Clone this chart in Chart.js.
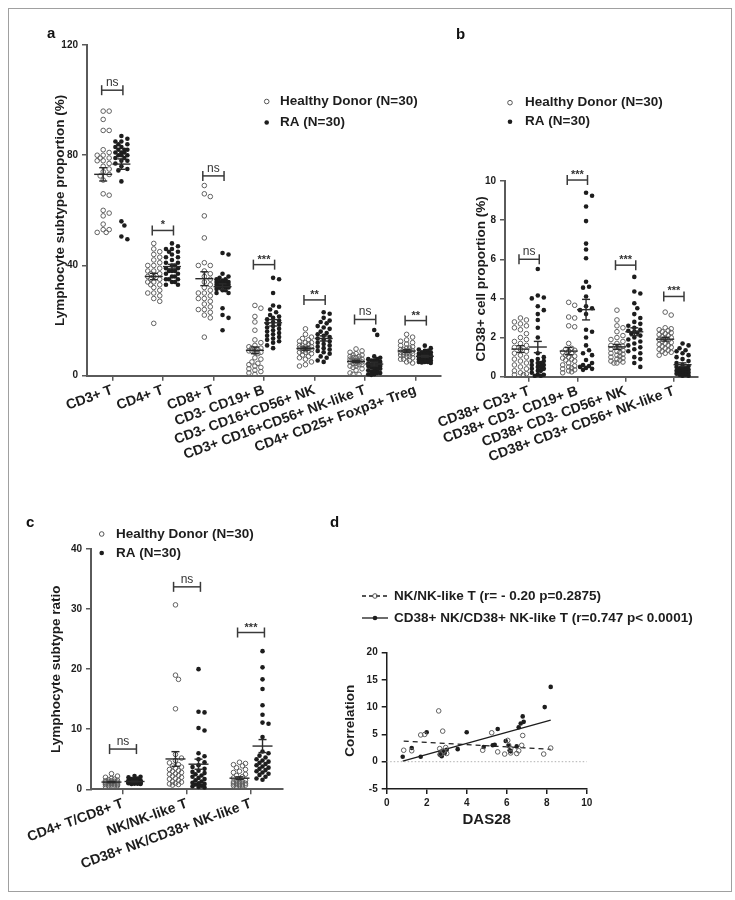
<!DOCTYPE html>
<html>
<head>
<meta charset="utf-8">
<script src="https://cdn.jsdelivr.net/npm/chart.js@4.4.1/dist/chart.umd.min.js"></script>
<style>
  body{margin:0;background:#fff}
  #fig{position:relative;width:735px;height:900px;overflow:hidden;background:#fff}
  #fig canvas{position:absolute}
  .frame{position:absolute;left:8px;top:8px;width:724px;height:884px;border:1px solid #a0a0a0;box-sizing:border-box}
  .tag{position:absolute;font:bold 15px "Liberation Sans",Arial,sans-serif;color:#111;line-height:16px}
</style>
</head>
<body>
<div id="fig">
  <div class="frame"></div>
  <canvas id="cA" width="450" height="480" style="left:0;top:0"></canvas>
  <canvas id="cB" width="300" height="480" style="left:420px;top:0"></canvas>
  <canvas id="cC" width="300" height="380" style="left:0;top:500px"></canvas>
  <canvas id="cD" width="430" height="345" style="left:300px;top:500px"></canvas>
  <div class="tag" style="left:47px;top:25px">a</div>
  <div class="tag" style="left:456px;top:26px">b</div>
  <div class="tag" style="left:26px;top:514px">c</div>
  <div class="tag" style="left:330px;top:514px">d</div>
</div>
<script>
// ====== DATA ======
const legendHD = 'Healthy Donor (N=30)';
const legendRA = 'RA (N=30)';

// panel a
const catsA = ['CD3+ T','CD4+ T','CD8+ T','CD3- CD19+ B','CD3- CD16+CD56+ NK','CD3+ CD16+CD56+ NK-like T','CD4+ CD25+ Foxp3+ Treg'];
const hdA = [
  [96,96,93,89,89,82,81,80,80,79,79,78,78,77,76,74,72.5,71,75,73,65.5,66,60,59,58,55,53,52,53,52],
  [48,46,45,44,43,42,41,40,40,39,38,38,37,37,36,36,35,35,34,34,33,33,32,31,30,30,29,28,27,19],
  [69,66,65,58,50,41,40,40,38,37,36,35,34,33,32,31,30,30,29,28,28,27,26,25,24,24,23,22,21,14],
  [25.5,24.5,21.5,19.5,16.5,13,12,11,10.5,10,10,9.5,9.5,9,9,8.5,8.5,8,6.5,6,5,4.5,4,3.5,3,2.5,2,1.5,1,0.5],
  [17,15,14,13.5,13,12.5,12,12,11.5,11,11,10.5,10.5,10,10,10,9.5,9.5,9,9,8.5,8.5,8,7.5,7,6.5,6,5,4,3.5],
  [9.7,9,8.5,8,7.5,7.5,7,7,6.5,6.5,6,6,6,5.5,5.5,5,5,5,4.5,4.5,4,4,3.5,3.5,3,2.5,2,1,0.5,0.5],
  [15,14,13,12.5,12,11.5,11,10.5,10,10,9.5,9.5,9,9,9,8.5,8.5,8,8,8,7.5,7.5,7,7,6.5,6,6,5.5,5,4.6]
];
const raA = [
  [87,86,85,85,84,84,83,83,82,82,82,81,81,81,80,80,80,79,79,78,78,77,76,75,74.5,70.5,56,54.5,50.5,49.5],
  [48,47,46,46,45,45,44,43,43,42,41,41,40,40,39,39,38,38,38,37,37,36,36,35,35,35,34,34,33,33],
  [44.5,44,37,36,35.5,35,35,34.5,34,34,34,33.5,33,33,33,32.5,32,32,31.5,31,31,30,30,34,33,32,24.5,22,21,16.5],
  [35.5,35,30,25.5,25,24,23,22,21.5,21,20.5,20,19.5,19,18.5,18,17.5,17,16.5,16,15.5,15,14.5,14,13.5,13,12.5,12,11,10],
  [23,22.5,21,20,19.5,19,18,17.5,17,16,15.5,15,14.5,14,13.5,13,12.5,12,11.5,11,10.5,10,9.5,9,8.5,8,7,6.5,5.5,5],
  [16.6,14.8,7,6.5,6,6,5.5,5.5,5,5,4.5,4.5,4,4,3.5,3.5,3.5,3,3,2.5,2.5,2,2,1.5,1.5,1,1,0.5,0.5,0.3],
  [10.9,10,9.5,9,9,8.5,8.5,8,8,8,7.5,7.5,7.5,7,7,7,6.5,6.5,6.5,6,6,6,5.5,5.5,5.5,5,5,5,4.8,4.6]
];
const sigA = ['ns','*','ns','***','**','ns','**'];
const sigYA = [103.6,52.7,72.5,40.3,27.5,20.4,20];

// panel b
const catsB = ['CD38+ CD3+ T','CD38+ CD3- CD19+ B','CD38+ CD3- CD56+ NK','CD38+ CD3+ CD56+ NK-like T'];
const hdB = [
  [3,2.9,2.8,2.7,2.6,2.5,2.4,2.2,2,1.9,1.8,1.7,1.6,1.5,1.4,1.3,1.2,1.1,1,0.9,0.8,0.7,0.6,0.5,0.4,0.3,0.2,0.15,0.1,0.1],
  [3.8,3.65,3.05,3,2.6,2.55,1.7,1.45,1.4,1.35,1.3,1.25,1.2,1.1,1.05,1,0.95,0.9,0.85,0.8,0.7,0.6,0.55,0.5,0.45,0.4,0.35,0.3,0.25,0.2],
  [3.4,2.9,2.6,2.5,2.3,2.1,2,1.9,1.8,1.7,1.6,1.55,1.5,1.45,1.4,1.35,1.3,1.25,1.2,1.15,1.1,1.05,1,0.95,0.9,0.85,0.8,0.75,0.7,0.7],
  [3.3,3.15,2.5,2.45,2.4,2.35,2.3,2.25,2.2,2.15,2.1,2.05,2,1.95,1.9,1.85,1.8,1.75,1.7,1.65,1.6,1.55,1.5,1.45,1.4,1.35,1.3,1.25,1.2,1.1]
];
const raB = [
  [5.5,4.15,4.05,4,3.6,3.4,3.2,2.9,2.5,2,1.2,1,0.9,0.8,0.8,0.7,0.7,0.6,0.6,0.5,0.5,0.4,0.4,0.3,0.3,0.2,0.1,0.1,0.05,0.05],
  [9.4,9.25,8.7,7.95,6.8,6.5,6.05,4.85,4.6,4.55,4.1,3.6,3.5,3.4,3.2,2.4,2.3,2,1.6,1.35,1.2,1.1,0.85,0.7,0.6,0.55,0.5,0.45,0.4,0.35],
  [5.1,4.35,4.25,3.75,3.5,3.2,3,2.8,2.7,2.6,2.5,2.4,2.35,2.3,2.25,2.2,2.1,2,1.9,1.8,1.7,1.6,1.5,1.4,1.3,1.2,1,0.9,0.7,0.5],
  [1.7,1.6,1.45,1.35,1.3,1.2,1.1,1,0.9,0.8,0.7,0.6,0.55,0.5,0.45,0.4,0.4,0.35,0.3,0.3,0.25,0.25,0.2,0.2,0.15,0.15,0.1,0.1,0.05,0.05]
];
const sigB = ['ns','***','***','***'];
const sigYB = [6,10.05,5.7,4.1];

// panel c
const catsC = ['CD4+ T/CD8+ T','NK/NK-like T','CD38+ NK/CD38+ NK-like T'];
const hdC = [
  [2.6,2.2,2,1.8,1.7,1.6,1.5,1.4,1.4,1.3,1.3,1.2,1.2,1.2,1.1,1.1,1.1,1,1,1,0.9,0.9,0.9,0.8,0.8,0.7,0.7,0.6,0.6,0.5],
  [30.7,19,18.3,13.4,5.8,5.2,4.8,4.4,4.1,3.9,3.7,3.5,3.3,3.1,3,2.8,2.6,2.5,2.3,2.2,2,1.8,1.7,1.5,1.3,1.2,1,0.9,0.8,0.7],
  [4.5,4.3,4.1,3.9,3.6,3.3,3,2.8,2.5,2.3,2.1,1.9,1.7,1.5,1.4,1.3,1.2,1.1,1,1,0.9,0.9,0.8,0.8,0.7,0.7,0.6,0.6,0.5,0.5]
];
const raC = [
  [2.2,2.1,2,1.8,1.7,1.6,1.5,1.5,1.4,1.4,1.3,1.3,1.3,1.2,1.2,1.2,1.2,1.1,1.1,1.1,1.1,1,1,1,1,1,0.95,0.95,0.9,0.9],
  [20,12.9,12.8,10.2,9.8,6,5.5,5,4.5,4,3.7,3.4,3.1,2.9,2.7,2.5,2.3,2.1,1.9,1.7,1.5,1.3,1.1,1,0.9,0.8,0.6,0.5,0.4,0.3],
  [23,20.3,18.3,16.7,14,12.4,11.1,10.9,8.7,6.3,6,5.6,5.3,5,4.8,4.6,4.4,4.2,4,3.8,3.6,3.4,3.2,3,2.8,2.6,2.4,2.1,1.8,1.6]
];
const sigC = ['ns','ns','***'];
const sigYC = [6.7,33.7,26.1];

// panel d
const legendNK = 'NK/NK-like T (r= - 0.20 p=0.2875)';
const legendCD38 = 'CD38+ NK/CD38+ NK-like T (r=0.747 p< 0.0001)';
const dasNK  = [0.85,1.25,1.7,1.9,2.6,2.65,2.7,2.8,2.85,2.95,3.0,4.8,5.25,5.55,5.9,6.05,6.1,6.2,6.2,6.5,6.6,6.75,6.8,7.85,8.2];
const corrNK = [2.1,2.0,4.9,5.0,9.3,2.4,1.4,5.6,1.9,2.6,1.5,2.1,5.3,1.8,1.4,3.9,3.0,1.6,2.4,1.5,2.0,3.0,4.8,1.4,2.5];
const dasCD38  = [0.8,1.25,1.7,2.0,2.65,2.7,2.75,2.8,2.9,3.0,3.55,4.0,4.85,5.3,5.4,5.55,5.95,6.1,6.15,6.2,6.5,6.6,6.7,6.8,6.85,7.9,8.2];
const corrCD38 = [0.9,2.5,0.9,5.4,1.3,1.8,1.0,2.0,1.6,2.2,2.3,5.4,2.7,3.0,3.1,6.0,3.8,2.9,2.1,1.9,2.8,6.3,7.0,8.3,7.3,10.0,13.7];

// ====== STYLE ======
const FONT = '"Liberation Sans", Arial, sans-serif';
const INK = '#1d1d1d', AXIS = '#5a5a5a';

// ====== HELPERS ======
const mean = v => v.reduce((s,a)=>s+a,0)/v.length;
const sem = v => { const m=mean(v); return Math.sqrt(v.reduce((s,a)=>s+(a-m)**2,0)/(v.length-1))/Math.sqrt(v.length); };
function fit(xs, ys){
  const mx=mean(xs), my=mean(ys); let sxy=0,sxx=0;
  xs.forEach((x,i)=>{ sxy+=(x-mx)*(ys[i]-my); sxx+=(x-mx)**2; });
  const b=sxy/sxx, a=my-b*mx, lo=Math.min(...xs), hi=Math.max(...xs);
  return [{x:lo,y:a+b*lo},{x:hi,y:a+b*hi}];
}
// simple beeswarm: horizontal offset (in category units) so dots don't pile up
function swarm(vals, pxU, pxC, dot, maxPx){
  const order = vals.map((v,i)=>i).sort((a,b)=>vals[b]-vals[a]);
  const placed=[], off=new Array(vals.length).fill(0), step=dot*0.6;
  const n = 2*Math.floor(maxPx/step);
  for(const i of order){
    const y = vals[i]*pxU; let best=0, bestD=-1;
    for(let k=0;k<=n;k++){
      const o = k===0 ? 0 : (k%2?1:-1)*Math.ceil(k/2)*step;
      let d=Infinity; for(const p of placed){ d=Math.min(d, Math.hypot(p.x-o,p.y-y)); }
      if(d>=dot){ best=o; break; }
      if(d>bestD){ bestD=d; best=o; }
    }
    placed.push({x:best,y}); off[i]=best/pxC;
  }
  return off;
}
function seg(ctx,x1,y1,x2,y2){ ctx.beginPath(); ctx.moveTo(x1,y1); ctx.lineTo(x2,y2); ctx.stroke(); }
function dot(ctx,x,y,r,filled){
  ctx.beginPath(); ctx.arc(x,y,r,0,Math.PI*2);
  if(filled){ ctx.fillStyle=INK; ctx.fill(); } else { ctx.strokeStyle='#555'; ctx.lineWidth=1; ctx.stroke(); }
}

// ====== PLUGIN: mean/SEM, brackets, legend ======
const deco = {
  id:'deco',
  beforeDatasetsDraw(chart, args, o){
    if(!o.zero) return;
    const {ctx, chartArea:a, scales:{y}} = chart, py=y.getPixelForValue(0);
    ctx.save(); ctx.strokeStyle='#b0b0b0'; ctx.lineWidth=1; ctx.setLineDash([1.5,2]);
    seg(ctx,a.left,py,a.right,py); ctx.restore();
  },
  afterDatasetsDraw(chart, args, o){
    const {ctx, scales:{x,y}} = chart;
    ctx.save(); ctx.strokeStyle='#2a2a2a'; ctx.lineWidth=1.4;
    (o.groups||[]).forEach(g=>{
      const cx=x.getPixelForValue(g.x), m=mean(g.v), s=sem(g.v);
      const ym=y.getPixelForValue(m), yt=y.getPixelForValue(m+s), yb=y.getPixelForValue(m-s);
      seg(ctx,cx-o.mw,ym,cx+o.mw,ym); seg(ctx,cx,yt,cx,yb);
      seg(ctx,cx-o.cw,yt,cx+o.cw,yt); seg(ctx,cx-o.cw,yb,cx+o.cw,yb);
    });
    (o.sig||[]).forEach(s=>{
      const x1=x.getPixelForValue(s.x-s.w), x2=x.getPixelForValue(s.x+s.w), py=y.getPixelForValue(s.y);
      ctx.strokeStyle='#3a3a3a'; ctx.lineWidth=1.5;
      seg(ctx,x1,py,x2,py); seg(ctx,x1,py-5,x1,py+5); seg(ctx,x2,py-5,x2,py+5);
      ctx.fillStyle='#333'; ctx.textAlign='center'; ctx.textBaseline='alphabetic';
      ctx.font = s.t==='ns' ? `12px ${FONT}` : `bold 11px ${FONT}`;
      ctx.fillText(s.t,(x1+x2)/2, py - (s.t==='ns'?4:2));
    });
    ctx.restore();
  },
  afterDraw(chart, args, o){
    if(!o.legend) return;
    const {ctx} = chart, L=o.legend;
    ctx.save(); ctx.font=`bold 13.5px ${FONT}`; ctx.fillStyle=INK; ctx.textBaseline='middle'; ctx.textAlign='left';
    L.items.forEach((it,i)=>{
      const yy=L.y+i*L.dy;
      if(it.line){
        ctx.strokeStyle=INK; ctx.lineWidth=1.3; ctx.setLineDash(it.line==='dash'?[4,3]:[]);
        seg(ctx,L.x0,yy,L.x1,yy); ctx.setLineDash([]);
        dot(ctx,(L.x0+L.x1)/2,yy,2.3,it.filled);
      } else dot(ctx,L.mx,yy,2.3,it.filled);
      ctx.fillStyle=INK; ctx.fillText(it.text,L.tx,yy);
    });
    ctx.restore();
  }
};

// ====== CHART BUILDERS ======
function axisY(p){
  return {
    min:p.yMin, max:p.yMax,
    afterFit:s=>{ s.width=p.yW; },
    border:{color:AXIS,width:2},
    grid:{drawOnChartArea:false,tickLength:5,color:AXIS,lineWidth:1.5},
    ticks:{stepSize:p.step,padding:4,color:INK,font:{family:FONT,size:10,weight:'bold'}},
    title:{display:true,text:p.yTitle,color:INK,font:{family:FONT,size:13.5,weight:'bold'},padding:{top:p.tPad,bottom:0}}
  };
}
function groupChart(id, p){
  const hdPts=[], raPts=[], groups=[], sig=[];
  p.cats.forEach((c,i)=>{
    const oh=swarm(p.hd[i],p.pxU,p.pxC,p.dot,p.spread), or=swarm(p.ra[i],p.pxU,p.pxC,p.dot,p.spread);
    p.hd[i].forEach((v,j)=>hdPts.push({x:i-p.side+oh[j],y:v}));
    p.ra[i].forEach((v,j)=>raPts.push({x:i+p.side+or[j],y:v}));
    groups.push({x:i-p.side,v:p.hd[i]},{x:i+p.side,v:p.ra[i]});
    sig.push({x:i,w:p.side+0.03,y:p.sigY[i],t:p.sig[i]});
  });
  new Chart(document.getElementById(id),{
    type:'scatter',
    data:{datasets:[
      {label:legendHD,data:hdPts,clip:false,pointRadius:p.r,pointBorderWidth:1,pointBorderColor:'#606060',pointBackgroundColor:'rgba(255,255,255,0)'},
      {label:legendRA,data:raPts,clip:false,pointRadius:p.r,pointBorderWidth:0,pointBackgroundColor:INK}
    ]},
    options:{
      responsive:false, animation:false, events:[],
      layout:{padding:p.pad},
      plugins:{legend:{display:false},tooltip:{enabled:false},
        deco:{groups,sig,mw:p.mw,cw:4,legend:{items:[{text:legendHD,filled:false},{text:legendRA,filled:true}],...p.leg}}},
      scales:{
        x:{type:'linear',min:-0.5,max:p.cats.length-0.5,
          afterBuildTicks:s=>{ s.ticks=p.cats.map((c,i)=>({value:i})); },
          afterFit:s=>{ s.height=p.xH; },
          border:{color:AXIS,width:2},
          grid:{drawOnChartArea:false,tickLength:5,color:AXIS,lineWidth:1.5},
          ticks:{autoSkip:false,minRotation:20,maxRotation:20,padding:1,color:INK,font:{family:FONT,size:14,weight:'bold'},callback:v=>p.cats[v]}},
        y:axisY(p)
      }
    },
    plugins:[deco]
  });
}

// ====== PANELS ======
groupChart('cA',{cats:catsA,hd:hdA,ra:raA,sig:sigA,sigY:sigYA,
  yMin:0,yMax:120,step:40,yTitle:'Lymphocyte subtype proportion (%)',
  pad:{left:0,top:45,right:9,bottom:0},yW:87,xH:104.3,tPad:52,
  pxU:2.75,pxC:50.7,side:0.18,dot:5,spread:7,r:2.3,mw:9,
  leg:{mx:266.7,tx:280,y:101.5,dy:21}});

groupChart('cB',{cats:catsB,hd:hdB,ra:raB,sig:sigB,sigY:sigYB,
  yMin:0,yMax:10,step:2,yTitle:'CD38+ cell proportion (%)',
  pad:{left:0,top:181,right:22,bottom:0},yW:85,xH:103.3,tPad:53.6,
  pxU:19.6,pxC:48.25,side:0.18,dot:5,spread:7,r:2.3,mw:9,
  leg:{mx:90,tx:105,y:102.7,dy:19}});

groupChart('cC',{cats:catsC,hd:hdC,ra:raC,sig:sigC,sigY:sigYC,
  yMin:0,yMax:40,step:10,yTitle:'Lymphocyte subtype ratio',
  pad:{left:0,top:49,right:17,bottom:0},yW:91,xH:90.7,tPad:48.6,
  pxU:6,pxC:64,side:0.18,dot:5,spread:8,r:2.3,mw:10,
  leg:{mx:101.7,tx:116,y:34,dy:19}});

// panel d: correlation scatter
new Chart(document.getElementById('cD'),{
  type:'scatter',
  data:{datasets:[
    {label:legendNK,data:dasNK.map((d,i)=>({x:d,y:corrNK[i]})),clip:false,pointRadius:2.3,pointBorderWidth:1,pointBorderColor:'#606060',pointBackgroundColor:'rgba(255,255,255,0)'},
    {label:legendCD38,data:dasCD38.map((d,i)=>({x:d,y:corrCD38[i]})),clip:false,pointRadius:2.3,pointBorderWidth:0,pointBackgroundColor:INK},
    {data:fit(dasNK,corrNK),showLine:true,pointRadius:0,borderColor:INK,borderWidth:1.3,borderDash:[5,4]},
    {data:fit(dasCD38,corrCD38),showLine:true,pointRadius:0,borderColor:INK,borderWidth:1.3}
  ]},
  options:{
    responsive:false, animation:false, events:[],
    layout:{padding:{left:0,top:152.5,right:143.3,bottom:0}},
    plugins:{legend:{display:false},tooltip:{enabled:false},
      deco:{zero:true,legend:{x0:62,x1:88,tx:94,y:96,dy:22,items:[{text:legendNK,filled:false,line:'dash'},{text:legendCD38,filled:true,line:'solid'}]}}},
    scales:{
      x:{type:'linear',min:0,max:10,
        afterFit:s=>{ s.height=56; },
        border:{color:INK,width:1.5},
        grid:{drawOnChartArea:false,tickLength:5,color:INK,lineWidth:1.5},
        ticks:{stepSize:2,padding:3,color:INK,font:{family:FONT,size:10,weight:'bold'}},
        title:{display:true,text:'DAS28',color:INK,font:{family:FONT,size:15,weight:'bold'},padding:{top:0,bottom:16}}},
      y:{min:-5,max:20,
        afterFit:s=>{ s.width=86.7; },
        border:{color:INK,width:1.5},
        grid:{drawOnChartArea:false,tickLength:5,color:INK,lineWidth:1.5},
        ticks:{stepSize:5,padding:4,color:INK,font:{family:FONT,size:10,weight:'bold'}},
        title:{display:true,text:'Correlation',color:INK,font:{family:FONT,size:13.5,weight:'bold'},padding:{top:42,bottom:0}}}
    }
  },
  plugins:[deco]
});
</script>
</body>
</html>
